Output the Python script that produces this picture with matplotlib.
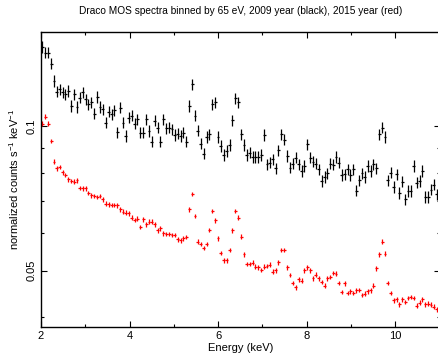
import numpy as np
import matplotlib
matplotlib.use('Agg')
import matplotlib.pyplot as plt
from matplotlib.ticker import FixedLocator, NullFormatter, FixedFormatter

plt.rcParams['font.family'] = ['Liberation Sans', 'DejaVu Sans']
plt.rcParams['mathtext.fontset'] = 'custom'
plt.rcParams['mathtext.rm'] = 'Liberation Sans'
plt.rcParams['mathtext.it'] = 'Liberation Sans'

# energy bins: 65 eV wide, starting at 2 keV
bin_width = 0.065
energy = 2.0 + bin_width / 2 + bin_width * np.arange(138)

# 2009 spectrum (black)
flux_2009 = [
    0.1462, 0.1423, 0.1423, 0.1350, 0.1242, 0.1180, 0.1193, 0.1175, 0.1165, 0.1184,
    0.1102, 0.1165, 0.1097, 0.1147, 0.1175, 0.1138, 0.1111, 0.1120, 0.1062, 0.1151,
    0.1097, 0.1084, 0.1017, 0.1072, 0.1058, 0.1078, 0.0972, 0.1093, 0.1017, 0.0954,
    0.1042, 0.1051, 0.1012, 0.1033, 0.0969, 0.0969, 0.1033, 0.0977, 0.0928, 0.1026,
    0.0993, 0.0928, 0.1033, 0.0989, 0.0993, 0.0985, 0.0959, 0.0965, 0.0954, 0.0969,
    0.0928, 0.1102, 0.1222, 0.1051, 0.0978, 0.0919, 0.0877, 0.0950, 0.0962, 0.1111,
    0.1120, 0.0950, 0.0910, 0.0871, 0.0888, 0.0914, 0.1029, 0.1143, 0.1120, 0.0962,
    0.0914, 0.0871, 0.0881, 0.0863, 0.0863, 0.0863, 0.0871, 0.0959, 0.0833, 0.0840,
    0.0853, 0.0817, 0.0890, 0.0962, 0.0938, 0.0867, 0.0820, 0.0836, 0.0860, 0.0833,
    0.0807, 0.0827, 0.0916, 0.0860, 0.0844, 0.0836, 0.0813, 0.0769, 0.0784, 0.0797,
    0.0836, 0.0831, 0.0863, 0.0840, 0.0792, 0.0794, 0.0813, 0.0792, 0.0813, 0.0734,
    0.0772, 0.0797, 0.0784, 0.0827, 0.0807, 0.0833, 0.0817, 0.0962, 0.0993, 0.0950,
    0.0771, 0.0800, 0.0747, 0.0794, 0.0726, 0.0767, 0.0704, 0.0733, 0.0733, 0.0827,
    0.0763, 0.0769, 0.0807, 0.0712, 0.0712, 0.0738, 0.0756, 0.0722,
]

# 2015 spectrum (red)
flux_2015 = [
    0.1012, 0.1047, 0.1012, 0.0931, 0.0844, 0.0817, 0.0823, 0.0801, 0.0792, 0.0775,
    0.0769, 0.0767, 0.0771, 0.0744, 0.0742, 0.0742, 0.0726, 0.0718, 0.0715, 0.0712,
    0.0715, 0.0704, 0.0690, 0.0687, 0.0685, 0.0685, 0.0684, 0.0671, 0.0664, 0.0661,
    0.0658, 0.0645, 0.0638, 0.0642, 0.0617, 0.0640, 0.0625, 0.0633, 0.0633, 0.0625,
    0.0607, 0.0613, 0.0598, 0.0597, 0.0597, 0.0594, 0.0594, 0.0581, 0.0579, 0.0584,
    0.0588, 0.0671, 0.0722, 0.0650, 0.0575, 0.0569, 0.0558, 0.0569, 0.0608, 0.0666,
    0.0637, 0.0584, 0.0545, 0.0526, 0.0526, 0.0552, 0.0607, 0.0666, 0.0645, 0.0589,
    0.0541, 0.0517, 0.0517, 0.0520, 0.0510, 0.0508, 0.0502, 0.0510, 0.0512, 0.0515,
    0.0498, 0.0501, 0.0521, 0.0552, 0.0552, 0.0508, 0.0490, 0.0472, 0.0462, 0.0480,
    0.0477, 0.0501, 0.0508, 0.0501, 0.0482, 0.0491, 0.0482, 0.0474, 0.0466, 0.0482,
    0.0485, 0.0495, 0.0493, 0.0472, 0.0452, 0.0471, 0.0450, 0.0453, 0.0450, 0.0455,
    0.0456, 0.0445, 0.0448, 0.0453, 0.0455, 0.0466, 0.0506, 0.0541, 0.0575, 0.0543,
    0.0472, 0.0450, 0.0434, 0.0436, 0.0426, 0.0436, 0.0431, 0.0439, 0.0441, 0.0439,
    0.0423, 0.0429, 0.0436, 0.0426, 0.0427, 0.0425, 0.0421, 0.0416,
]

# relative 1-sigma errors
rel_err_2009 = 0.027
rel_err_2015 = 0.011

flux_2009 = np.array(flux_2009)
flux_2015 = np.array(flux_2015)

fig = plt.figure(figsize=(4.38, 3.54), dpi=100)
ax = fig.add_axes([0.0936, 0.0763, 0.91, 0.8333])

ax.errorbar(energy, flux_2009, xerr=bin_width / 2, yerr=flux_2009 * rel_err_2009,
            fmt='none', ecolor='black', elinewidth=0.9, capsize=0)
ax.errorbar(energy, flux_2015, xerr=bin_width / 2, yerr=flux_2015 * rel_err_2015,
            fmt='none', ecolor='#ff0000', elinewidth=0.9, capsize=0)

ax.set_yscale('log')
ax.set_xlim(2, 11)
ax.set_ylim(0.0382, 0.157)

ax.xaxis.set_major_locator(FixedLocator([2, 4, 6, 8, 10]))
ax.xaxis.set_minor_locator(FixedLocator([3, 5, 7, 9, 11]))
ax.yaxis.set_major_locator(FixedLocator([0.05, 0.1]))
ax.yaxis.set_major_formatter(FixedFormatter(['0.05', '0.1']))
ax.yaxis.set_minor_locator(FixedLocator([0.04, 0.06, 0.07, 0.08, 0.09]))
ax.yaxis.set_minor_formatter(NullFormatter())

ax.tick_params(which='both', direction='in', top=True, right=True, labelsize=8, pad=3)
ax.tick_params(which='major', length=4.5, width=0.8)
ax.tick_params(which='minor', length=2.5, width=0.8)
for lbl in ax.get_yticklabels():
    lbl.set_rotation(90)
    lbl.set_va('center')

for s in ax.spines.values():
    s.set_linewidth(1.0)

ax.set_xlabel('Energy (keV)', fontsize=8, labelpad=1)
ax.set_ylabel(r'normalized counts s$^{-1}$ keV$^{-1}$', fontsize=8, labelpad=4)
ax.set_title('Draco MOS spectra binned by 65 eV, 2009 year (black), 2015 year (red)',
             fontsize=7.3, pad=13)

fig.savefig('out.png', dpi=100)
